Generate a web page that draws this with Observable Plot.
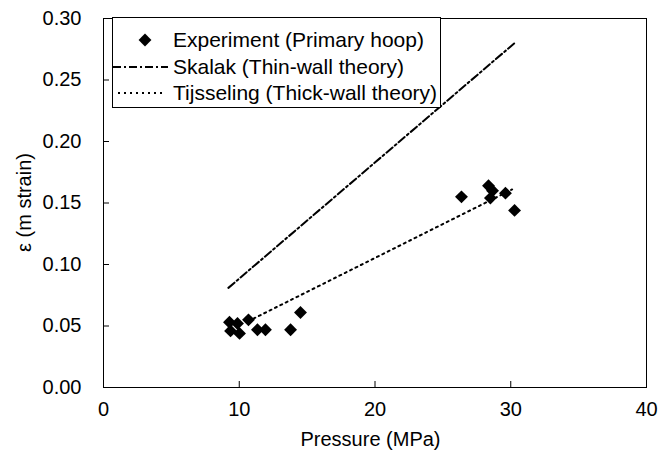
<!DOCTYPE html>
<html><head><meta charset="utf-8">
<script src="https://cdn.jsdelivr.net/npm/d3@7"></script>
<script src="https://cdn.jsdelivr.net/npm/@observablehq/plot@0.6"></script>
<style>body{margin:0;background:#fff;}</style>
</head><body><div id="chart"></div>
<script>
// Data
const expPressure = [9.28, 9.87, 9.36, 10.02, 10.68, 11.34, 11.93, 13.78, 14.51, 26.37, 28.36, 28.66, 28.5, 29.61, 30.28];
const expStrain   = [0.053, 0.052, 0.046, 0.044, 0.055, 0.047, 0.047, 0.047, 0.061, 0.155, 0.164, 0.160, 0.154, 0.158, 0.144];
const skalakPressure = [9.2, 30.28];
const skalakStrain   = [0.081, 0.280];
const tijsPressure = [11.05, 30.1];
const tijsStrain   = [0.056, 0.161];
const xTicks = [0, 10, 20, 30, 40];
const yTicks = [0, 0.05, 0.10, 0.15, 0.20, 0.25, 0.30];
const seriesNames = ["Experiment (Primary hoop)", "Skalak (Thin-wall theory)", "Tijsseling (Thick-wall theory)"];

const W = 671, H = 457, mL = 103, mR = 25, mT = 18, mB = 70;
const plotW = W - mL - mR, plotH = H - mT - mB;
const font = "'Liberation Sans', Arial, sans-serif";
const dashDot = "8,3,2,3", dotted = "2,4";
const fmtY = d3.format(".2f");

const expData = expPressure.map((p, i) => ({p, e: expStrain[i]}));
const skData = skalakPressure.map((p, i) => ({p, e: skalakStrain[i]}));
const tjData = tijsPressure.map((p, i) => ({p, e: tijsStrain[i]}));

const chart = Plot.plot({
  width: W, height: H,
  marginLeft: mL, marginRight: mR, marginTop: mT, marginBottom: mB,
  style: {fontFamily: font, fontSize: "20px", color: "#000", background: "#fff"},
  x: {domain: [0, 40], axis: null},
  y: {domain: [0, 0.30], axis: null},
  marks: [
    Plot.text(xTicks, {x: d => d, frameAnchor: "bottom", dy: 28, text: d => String(d), fontSize: 20, fill: "#000"}),
    Plot.text(yTicks, {y: d => d, frameAnchor: "left", dx: -22, textAnchor: "end", text: d => fmtY(d), fontSize: 20, fill: "#000"}),
    Plot.tickX(xTicks, {x: d => d, insetTop: plotH - 6, stroke: "#000"}),
    Plot.tickY(yTicks, {y: d => d, insetRight: plotW - 6, stroke: "#000"}),
    Plot.line(skData, {x: "p", y: "e", stroke: "#000", strokeWidth: 2, strokeDasharray: dashDot}),
    Plot.line(tjData, {x: "p", y: "e", stroke: "#000", strokeWidth: 2, strokeDasharray: dotted}),
    Plot.dot(expData, {x: "p", y: "e", symbol: "diamond2", fill: "#000", stroke: "none", r: 5.8}),
    Plot.frame({stroke: "#000"})
  ]
});
document.getElementById("chart").appendChild(chart);

const svg = d3.select(chart);
// Axis titles
svg.append("text").attr("x", mL + plotW / 2 - 4).attr("y", 446).attr("text-anchor", "middle")
  .attr("font-family", font).attr("font-size", 20).attr("fill", "#000").text("Pressure (MPa)");
svg.append("text").attr("transform", `translate(24,${mT + plotH / 2}) rotate(-90)`).attr("text-anchor", "middle")
  .attr("dy", "0.35em").attr("font-family", font).attr("font-size", 20).attr("fill", "#000").text("ε (m strain)");

// Legend
const lg = svg.append("g").attr("font-family", font).attr("font-size", 21).attr("text-anchor", "start");
lg.append("rect").attr("x", 112.5).attr("y", 17.5).attr("width", 328).attr("height", 90)
  .attr("fill", "#fff").attr("stroke", "#000");
const rowsY = [40, 67, 93];
lg.append("path").attr("d", d3.symbol(d3.symbolDiamond2, Math.PI * 5.8 * 5.8)())
  .attr("transform", `translate(145,${rowsY[0]})`).attr("fill", "#000");
lg.append("line").attr("x1", 113).attr("x2", 168).attr("y1", rowsY[1]).attr("y2", rowsY[1])
  .attr("stroke", "#000").attr("stroke-width", 2).attr("stroke-dasharray", dashDot);
lg.append("line").attr("x1", 118).attr("x2", 166).attr("y1", rowsY[2]).attr("y2", rowsY[2])
  .attr("stroke", "#000").attr("stroke-width", 2).attr("stroke-dasharray", dotted);
seriesNames.forEach((t, i) => {
  lg.append("text").attr("x", 173).attr("y", rowsY[i]).attr("dy", "0.35em").attr("text-anchor", "start")
    .attr("fill", "#000").text(t);
});
</script>
</body></html>
